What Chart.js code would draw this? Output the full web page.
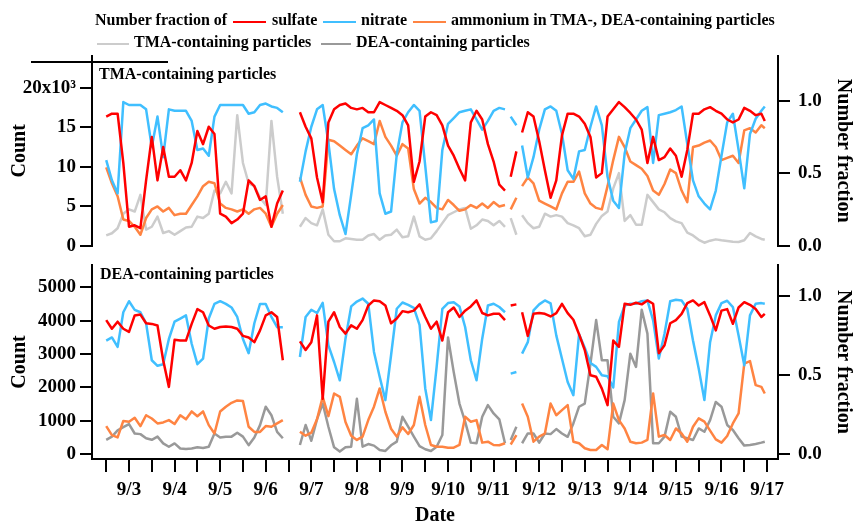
<!DOCTYPE html>
<html>
<head>
<meta charset="utf-8">
<script src="https://cdn.jsdelivr.net/npm/chart.js@4.4.1/dist/chart.umd.min.js"></script>
<style>
  body { margin: 0; background: #fff; }
  #page { position: relative; width: 855px; height: 523px; overflow: hidden; font-family: "Liberation Serif", serif; font-weight: bold; color: #000; }
  canvas { position: absolute; left: 0; }
  .txt { position: absolute; font-size: 16px; line-height: 16px; white-space: nowrap; z-index: 2; }
  .swatch { position: absolute; height: 2px; z-index: 2; }
</style>
</head>
<body>
<div id="page">
  <div class="txt" style="left:95px; top:12px;">Number fraction of</div>
  <div class="swatch" style="left:233px; top:21px; width:33px; background:#ff0000;"></div>
  <div class="txt" style="left:272px; top:12px;">sulfate</div>
  <div class="swatch" style="left:323px; top:21px; width:33px; background:#40bfff;"></div>
  <div class="txt" style="left:361px; top:12px;">nitrate</div>
  <div class="swatch" style="left:413px; top:21px; width:33px; background:#ff8442;"></div>
  <div class="txt" style="left:451px; top:12px;">ammonium in TMA-, DEA-containing particles</div>
  <div class="swatch" style="left:97px; top:43px; width:32px; background:#cccccc;"></div>
  <div class="txt" style="left:134px; top:34px;">TMA-containing particles</div>
  <div class="swatch" style="left:321px; top:43px; width:30px; background:#999999;"></div>
  <div class="txt" style="left:356px; top:34px;">DEA-containing particles</div>
  <div style="position:absolute; left:31px; top:61px; width:137px; height:2px; background:#000;"></div>

  <canvas id="topChart" width="855" height="265" style="top:0;"></canvas>
  <canvas id="bottomChart" width="855" height="278" style="top:245px;"></canvas>

  <div class="txt" style="left:99px; top:66px;">TMA-containing particles</div>
  <div class="txt" style="left:100px; top:266px;">DEA-containing particles</div>
</div>
<script>
// days of September, 3-hour steps; 11.31 and 11.55 mark the short data breaks
const times = [
  2.5, 2.625, 2.75, 2.875,
  3, 3.125, 3.25, 3.375, 3.5, 3.625, 3.75, 3.875,
  4, 4.125, 4.25, 4.375, 4.5, 4.625, 4.75, 4.875,
  5, 5.125, 5.25, 5.375, 5.5, 5.625, 5.75, 5.875,
  6, 6.125, 6.25, 6.375, 6.5, 6.625, 6.75, 6.875,
  7, 7.125, 7.25, 7.375, 7.5, 7.625, 7.75, 7.875,
  8, 8.125, 8.25, 8.375, 8.5, 8.625, 8.75, 8.875,
  9, 9.125, 9.25, 9.375, 9.5, 9.625, 9.75, 9.875,
  10, 10.125, 10.25, 10.375, 10.5, 10.625, 10.75, 10.875,
  11, 11.125, 11.25, 11.31, 11.375, 11.5, 11.55, 11.625, 11.75, 11.875,
  12, 12.125, 12.25, 12.375, 12.5, 12.625, 12.75, 12.875,
  13, 13.125, 13.25, 13.375, 13.5, 13.625, 13.75, 13.875,
  14, 14.125, 14.25, 14.375, 14.5, 14.625, 14.75, 14.875,
  15, 15.125, 15.25, 15.375, 15.5, 15.625, 15.75, 15.875,
  16, 16.125, 16.25, 16.375, 16.5, 16.625, 16.75, 16.875, 16.95
];

// TMA-containing particles, number fractions
const tmaSulfate = [
  0.89, 0.91, 0.91, 0.57,
  0.13, 0.14, 0.12, 0.45, 0.75, 0.45, 0.68, 0.475,
  0.475, 0.52, 0.45, 0.57, 0.79, 0.70, 0.82, 0.77,
  0.22, 0.20, 0.155, 0.18, 0.22, 0.45, 0.41, 0.315,
  0.34, 0.13, 0.29, 0.38, null, null, 0.92, 0.82,
  0.74, 0.47, 0.30, 0.85, 0.94, 0.97, 0.98, 0.95,
  0.94, 0.95, 0.92, 0.92, 0.99, 0.97, 0.95, 0.93,
  0.90, 0.83, 0.44, 0.58, 0.89, 0.92, 0.90, 0.83,
  0.69, 0.62, 0.53, 0.45, 0.85, 0.93, 0.87, 0.70,
  0.58, 0.42, 0.38, null, 0.475, 0.65, null, 0.78, 0.92, 0.89,
  0.72, 0.52, 0.33, 0.45, 0.76, 0.91, 0.91, 0.89,
  0.84, 0.75, 0.47, 0.50, 0.89, 0.94, 0.99, 0.955,
  0.915, 0.87, 0.80, 0.57, 0.75, 0.59, 0.61, 0.67,
  0.62, 0.475, 0.66, 0.91, 0.91, 0.94, 0.955, 0.93,
  0.91, 0.87, 0.85, 0.87, 0.95, 0.93, 0.90, 0.91, 0.86
];
const tmaNitrate = [
  0.59, 0.45, 0.36, 0.99,
  0.97, 0.97, 0.97, 0.94, 0.68, 0.89, 0.61, 0.94,
  0.93, 0.93, 0.93, 0.86, 0.66, 0.67, 0.62, 0.89,
  0.97, 0.97, 0.97, 0.97, 0.97, 0.91, 0.92, 0.97,
  0.98, 0.96, 0.95, 0.92, null, null, 0.44, 0.65,
  0.82, 0.94, 0.97, 0.71, 0.39, 0.21, 0.08, 0.35,
  0.63, 0.81, 0.83, 0.87, 0.36, 0.22, 0.235, 0.63,
  0.85, 0.92, 0.97, 0.93, 0.55, 0.16, 0.17, 0.66,
  0.84, 0.88, 0.92, 0.93, 0.94, 0.87, 0.80, 0.86,
  0.93, 0.95, 0.94, null, 0.89, 0.83, null, 0.69, 0.47, 0.61,
  0.80, 0.94, 0.96, 0.93, 0.77, 0.52, 0.46, 0.65,
  0.66, 0.82, 0.96, 0.83, 0.475, 0.31, 0.26, 0.635,
  0.81, 0.87, 0.93, 0.955, 0.57, 0.90, 0.91, 0.92,
  0.935, 0.96, 0.70, 0.45, 0.34, 0.29, 0.25, 0.38,
  0.62, 0.85, 0.91, 0.66, 0.395, 0.77, 0.875, 0.93, 0.96
];
const tmaAmmonium = [
  0.54, 0.43, 0.34, 0.18,
  0.17, 0.13, 0.075, 0.19, 0.25, 0.27, 0.235, 0.26,
  0.21, 0.22, 0.22, 0.28, 0.34, 0.41, 0.44, 0.43,
  0.29, 0.26, 0.25, 0.235, 0.25, 0.22, 0.25, 0.26,
  0.22, 0.13, 0.22, 0.28, null, null, 0.47, 0.35,
  0.27, 0.26, 0.27, 0.73, 0.72, 0.69, 0.66, 0.63,
  0.69, 0.74, 0.72, 0.70, 0.86, 0.75, 0.69, 0.62,
  0.70, 0.67, 0.39, 0.29, 0.33, 0.30, 0.26, 0.25,
  0.315, 0.28, 0.24, 0.25, 0.28, 0.26, 0.29, 0.26,
  0.30, 0.27, 0.28, null, 0.25, 0.33, null, 0.41, 0.47, 0.43,
  0.31, 0.29, 0.27, 0.25, 0.36, 0.44, 0.44, 0.51,
  0.36, 0.29, 0.26, 0.25, 0.41, 0.59, 0.75, 0.68,
  0.58, 0.555, 0.53, 0.48, 0.38, 0.35, 0.425, 0.525,
  0.50, 0.38, 0.30, 0.68, 0.69, 0.71, 0.725, 0.68,
  0.59, 0.605, 0.62, 0.57, 0.795, 0.81, 0.78, 0.83, 0.81
];
const tmaParticles = [
  0.07, 0.085, 0.12, 0.22,
  0.25, 0.235, 0.35, 0.11, 0.13, 0.20, 0.087, 0.10,
  0.075, 0.10, 0.125, 0.13, 0.20, 0.19, 0.22, 0.38,
  0.36, 0.44, 0.36, 0.90, 0.57, 0.43, 0.41, 0.33,
  0.28, 0.86, 0.475, 0.22, null, null, 0.13, 0.19,
  0.155, 0.14, 0.25, 0.075, 0.03, 0.03, 0.05, 0.045,
  0.04, 0.04, 0.07, 0.08, 0.04, 0.07, 0.075, 0.11,
  0.057, 0.064, 0.20, 0.064, 0.04, 0.05, 0.10, 0.155,
  0.21, 0.23, 0.25, 0.26, 0.116, 0.14, 0.18, 0.17,
  0.14, 0.17, 0.13, null, 0.19, 0.075, null, 0.21, 0.155, 0.12,
  0.13, 0.22, 0.20, 0.21, 0.20, 0.155, 0.14, 0.12,
  0.064, 0.075, 0.15, 0.205, 0.235, 0.395, 0.50, 0.17,
  0.21, 0.144, 0.144, 0.35, 0.30, 0.25, 0.23, 0.19,
  0.167, 0.155, 0.09, 0.07, 0.04, 0.02, 0.034, 0.043,
  0.037, 0.032, 0.027, 0.025, 0.037, 0.087, 0.064, 0.046, 0.04
];

// DEA-containing particles, number fractions
const deaSulfate = [
  0.85, 0.795, 0.84, 0.795,
  0.775, 0.88, 0.885, 0.83, 0.826, 0.816, 0.595, 0.426,
  0.725, 0.72, 0.72, 0.826, 0.92, 0.90, 0.816, 0.795,
  0.806, 0.81, 0.806, 0.795, 0.75, 0.74, 0.71, 0.785,
  0.88, 0.90, 0.87, 0.595, null, null, 0.715, 0.66,
  0.71, 0.88, 0.35, 0.84, 0.90, 0.806, 0.764, 0.817,
  0.795, 0.85, 0.943, 0.975, 0.97, 0.943, 0.83, 0.86,
  0.907, 0.90, 0.91, 0.95, 0.87, 0.795, 0.84, 0.72,
  0.90, 0.93, 0.87, 0.91, 0.937, 0.975, 0.895, 0.88,
  0.89, 0.89, 0.85, null, 0.943, 0.95, null, 0.90, 0.75, 0.89,
  0.895, 0.89, 0.873, 0.894, 0.953, 0.894, 0.852, 0.76,
  0.66, 0.50, 0.49, 0.415, 0.31, 0.72, 0.68, 0.954,
  0.947, 0.96, 0.95, 0.975, 0.954, 0.64, 0.69, 0.83,
  0.85, 0.89, 0.958, 0.975, 0.943, 0.964, 0.88, 0.785,
  0.91, 0.92, 0.827, 0.93, 0.964, 0.947, 0.92, 0.87, 0.89
];
const deaNitrate = [
  0.72, 0.74, 0.68, 0.90,
  0.97, 0.915, 0.90, 0.83, 0.595, 0.56, 0.57, 0.73,
  0.84, 0.86, 0.88, 0.70, 0.57, 0.605, 0.86, 0.953,
  0.97, 0.953, 0.93, 0.87, 0.73, 0.64, 0.83, 0.953,
  0.953, 0.87, 0.805, 0.805, null, null, 0.616, 0.87,
  0.916, 0.895, 0.96, 0.69, 0.584, 0.468, 0.732, 0.937,
  0.968, 0.987, 0.954, 0.648, 0.49, 0.342, 0.627, 0.922,
  0.962, 0.947, 0.928, 0.82, 0.416, 0.215, 0.553, 0.922,
  0.958, 0.964, 0.937, 0.806, 0.595, 0.468, 0.732, 0.943,
  0.954, 0.933, 0.90, null, 0.51, 0.52, null, 0.637, 0.71, 0.912,
  0.95, 0.975, 0.957, 0.753, 0.605, 0.457, 0.373, 0.76,
  0.675, 0.578, 0.553, 0.50, 0.494, 0.422, 0.838, 0.943,
  0.954, 0.954, 0.97, 0.975, 0.848, 0.606, 0.764, 0.97,
  0.979, 0.975, 0.922, 0.72, 0.542, 0.342, 0.71, 0.88,
  0.958, 0.973, 0.933, 0.753, 0.563, 0.88, 0.954, 0.958, 0.954
];
const deaAmmonium = [
  0.177, 0.12, 0.105, 0.21,
  0.204, 0.23, 0.177, 0.246, 0.225, 0.194, 0.20, 0.215,
  0.19, 0.246, 0.22, 0.27, 0.24, 0.27, 0.183, 0.13,
  0.27, 0.30, 0.325, 0.34, 0.337, 0.173, 0.14, 0.14,
  0.177, 0.173, 0.194, 0.215, null, null, 0.141, 0.116,
  0.135, 0.22, 0.363, 0.24, 0.384, 0.363, 0.203, 0.116,
  0.089, 0.11, 0.215, 0.30, 0.416, 0.268, 0.16, 0.11,
  0.169, 0.127, 0.184, 0.363, 0.184, 0.057, 0.046, 0.046,
  0.04, 0.04, 0.057, 0.236, 0.205, 0.215, 0.072, 0.078,
  0.057, 0.055, 0.068, null, 0.06, 0.12, null, 0.32, 0.236, 0.078,
  0.11, 0.13, 0.32, 0.246, 0.278, 0.31, 0.078, 0.068,
  0.036, 0.025, 0.025, 0.057, 0.03, 0.32, 0.215, 0.162,
  0.078, 0.068, 0.072, 0.089, 0.384, 0.11, 0.12, 0.089,
  0.162, 0.13, 0.078, 0.173, 0.226, 0.205, 0.148, 0.093,
  0.072, 0.114, 0.194, 0.257, 0.574, 0.59, 0.437, 0.426, 0.384
];
const deaParticles = [
  0.09, 0.11, 0.15, 0.17,
  0.19, 0.13, 0.126, 0.10, 0.09, 0.11, 0.067, 0.046,
  0.067, 0.035, 0.031, 0.035, 0.042, 0.038, 0.046, 0.13,
  0.105, 0.11, 0.11, 0.135, 0.11, 0.056, 0.105, 0.183,
  0.30, 0.246, 0.14, 0.10, null, null, 0.057, 0.184,
  0.084, 0.22, 0.32, 0.173, 0.042, 0.015, 0.042, 0.046,
  0.35, 0.046, 0.063, 0.053, 0.025, 0.019, 0.055, 0.078,
  0.236, 0.173, 0.11, 0.05, 0.03, 0.019, 0.046, 0.12,
  0.74, 0.52, 0.32, 0.205, 0.072, 0.068, 0.236, 0.31,
  0.257, 0.22, 0.068, null, 0.089, 0.173, null, 0.068, 0.13, 0.13,
  0.072, 0.13, 0.126, 0.158, 0.13, 0.109, 0.194, 0.30,
  0.32, 0.574, 0.85, 0.595, 0.595, 0.236, 0.194, 0.342,
  0.637, 0.553, 0.916, 0.764, 0.068, 0.068, 0.11, 0.268,
  0.236, 0.11, 0.10, 0.089, 0.162, 0.141, 0.215, 0.33,
  0.30, 0.184, 0.152, 0.10, 0.053, 0.057, 0.063, 0.072, 0.078
];

// axis ticks and labels
const dayTicks = [2.5, 3, 3.5, 4, 4.5, 5, 5.5, 6, 6.5, 7, 7.5, 8, 8.5, 9, 9.5, 10,
  10.5, 11, 11.5, 12, 12.5, 13, 13.5, 14, 14.5, 15, 15.5, 16, 16.5, 17];
const dayLabels = ['', '9/3', '', '9/4', '', '9/5', '', '9/6', '', '9/7', '', '9/8', '', '9/9', '', '9/10',
  '', '9/11', '', '9/12', '', '9/13', '', '9/14', '', '9/15', '', '9/16', '', '9/17'];
const fractionTicks = [0, 0.5, 1.0];
const fractionLabels = ['0.0', '0.5', '1.0'];
const tmaCountTicks = [0, 5000, 10000, 15000, 20000];
const tmaCountLabels = ['0', '5', '10', '15', '20x10\u00b3'];
const deaCountTicks = [0, 1000, 2000, 3000, 4000, 5000];
const deaCountLabels = ['0', '1000', '2000', '3000', '4000', '5000'];

const COLORS = { sulfate: '#ff0000', nitrate: '#40bfff', ammonium: '#ff8442', tma: '#cccccc', dea: '#999999' };

Chart.defaults.font.family = '"Liberation Serif", serif';
Chart.defaults.font.weight = 'bold';
Chart.defaults.color = '#000';

function lineSet(values, color) {
    return {
        data: times.map((t, i) => ({ x: t, y: values[i] })),
        borderColor: color,
        borderWidth: 2.5,
        borderJoinStyle: 'round',
        pointRadius: 0,
        tension: 0,
        yAxisID: 'yR'
    };
}

function fixedTicks(values) {
    return (scale) => { scale.ticks = values.map((v) => ({ value: v })); };
}

const axisLines = { drawOnChartArea: false, tickLength: 12, color: '#000', lineWidth: 2 };

function sideAxis(position, width, range, ticks, labels, title, padding) {
    return {
        type: 'linear',
        position,
        min: range[0],
        max: range[1],
        afterFit: (scale) => { scale.width = width; },
        afterBuildTicks: fixedTicks(ticks),
        ticks: { padding, font: { size: 19 }, callback: (v, i) => labels[i] },
        grid: axisLines,
        border: { color: '#000', width: 2 },
        title: {
            display: true,
            text: title,
            font: { size: 20, lineHeight: 1.2 },
            padding: position === 'left' ? { top: 8, bottom: 0 } : { top: 0, bottom: 0 }
        }
    };
}

function dateAxis(show) {
    return {
        type: 'linear',
        display: show,
        min: 2.188,
        max: 17.24,
        afterFit: (scale) => { scale.height = show ? 64 : 0; },
        afterBuildTicks: fixedTicks(dayTicks),
        ticks: { autoSkip: false, maxRotation: 0, padding: 7, font: { size: 19 }, callback: (v, i) => dayLabels[i] },
        grid: Object.assign({}, axisLines, { tickLength: 13 }),
        border: { color: '#000', width: 2 },
        title: { display: true, text: 'Date', font: { size: 20, lineHeight: 0.7 }, padding: { top: 0, bottom: 0 } }
    };
}

function makeChart(id, series, opts) {
    return new Chart(document.getElementById(id), {
        type: 'line',
        data: { datasets: series },
        options: {
            responsive: false,
            animation: false,
            devicePixelRatio: 1,
            layout: { padding: opts.padding },
            plugins: { legend: { display: false }, tooltip: { enabled: false } },
            scales: {
                x: dateAxis(opts.showDate),
                yL: sideAxis('left', 92, opts.countRange, opts.countTicks, opts.countLabels, 'Count', 4),
                yR: sideAxis('right', 77, opts.fractionRange, fractionTicks, fractionLabels, 'Number fraction', 8)
            }
        }
    });
}

makeChart('topChart', [
    lineSet(tmaSulfate, COLORS.sulfate),
    lineSet(tmaNitrate, COLORS.nitrate),
    lineSet(tmaAmmonium, COLORS.ammonium),
    lineSet(tmaParticles, COLORS.tma)
], {
    padding: { top: 56, bottom: 18, left: 0, right: 0 },
    showDate: false,
    countRange: [0, 24025],
    countTicks: tmaCountTicks,
    countLabels: tmaCountLabels,
    fractionRange: [0, 1.308]
});

makeChart('bottomChart', [
    lineSet(deaSulfate, COLORS.sulfate),
    lineSet(deaNitrate, COLORS.nitrate),
    lineSet(deaAmmonium, COLORS.ammonium),
    lineSet(deaParticles, COLORS.dea)
], {
    padding: { top: 20, bottom: 0, left: 0, right: 0 },
    showDate: true,
    countRange: [-150, 5670],
    countTicks: deaCountTicks,
    countLabels: deaCountLabels,
    fractionRange: [-0.032, 1.2]
});
</script>
</body>
</html>
